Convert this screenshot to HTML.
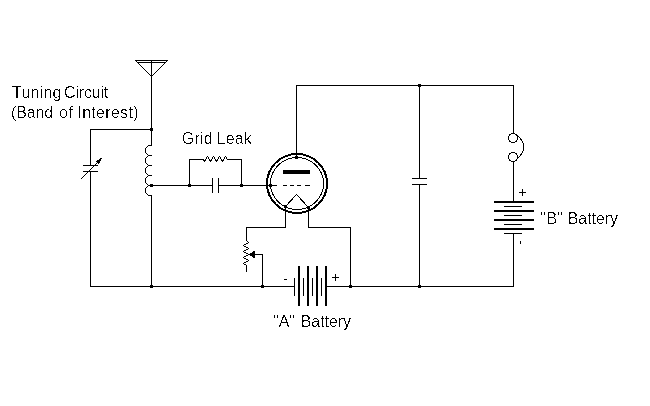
<!DOCTYPE html>
<html><head><meta charset="utf-8">
<style>
html,body{margin:0;padding:0;background:#fff;}
body{width:650px;height:406px;overflow:hidden;position:relative;font-family:"Liberation Sans",sans-serif;}
svg{position:absolute;left:0;top:0;}
.t{position:absolute;font-size:16px;line-height:19px;color:#000;white-space:nowrap;filter:url(#thr);}
</style></head><body>
<svg width="650" height="406" viewBox="0 0 650 406">
<defs><filter id="thr" x="0" y="0" width="100%" height="100%" color-interpolation-filters="sRGB"><feComponentTransfer><feFuncA type="discrete" tableValues="0 0 0 1 1"/></feComponentTransfer></filter></defs>
<g transform="translate(0.5,0.5)" fill="none" stroke="#000" stroke-width="1" stroke-linecap="square" shape-rendering="crispEdges">
<!-- antenna -->
<path d="M135,60 H167 M137,62 H165 M135,60 L151,76 L167,60 M151,60 V129"/>
<!-- tuning: top & left & bottom -->
<path d="M90,129 H151 M90,129 V165 M90,171 V286 H294 M326,286 H513 V233 M513,133 V85 H296 V157"/>
<!-- coil -->
<path d="M151,129 V145 H148 L145,148 V152 L148,155 H151 M148,155 L145,158 V162 L148,165 H151 M148,165 L145,168 V172 L148,175 H151 M148,175 L145,178 V182 L148,185 H151 M148,185 L145,188 V192 L148,195 H151 V286"/>
<!-- variable cap -->
<path d="M83,165 H97 M83,171 H97"/>
<path stroke-linecap="butt" d="M80,179 L100,159"/>
<!-- grid line -->
<path d="M151,185 H212 M218,185 H276 M212,178 V192 M218,178 V192"/>
<!-- grid leak -->
<path d="M189,185 V159 H203 M227,159 H241 V185"/>
<path stroke-linejoin="bevel" stroke-linecap="butt" d="M203,159 L204,161 L207,156 L210,161 L213,156 L216,161 L219,156 L222,161 L225,156 L227,159"/>
<!-- grid dashes -->
<path d="M283,185 H286 M290,185 H293 M297,185 H300 M305,185 H309"/>
<!-- filament -->
<path d="M285,206 V227 H246 V240 M246,265 V271 M308,207 V227 H350 V286"/>
<path stroke-linejoin="bevel" stroke-linecap="butt" d="M285,206 L296,194 L308,207 M246,240 L248,242 L243,245 L248,248 L243,251 L248,254 L243,257 L248,260 L243,263 L246,265"/>
<!-- rheostat arrow -->
<path d="M250,254 H262 V286"/>
<!-- right cap -->
<path d="M419,85 V178 M412,178 H426 M412,184 H426 M419,184 V286"/>
<!-- B battery -->
<path d="M513,161 V201 M504,206 H521 M504,215 H521 M504,224 H521 M504,233 H521 M519,192 H525 M522,189 V195 M520,241 V243"/>
<!-- A battery thin -->
<path d="M294,278 V295 M303,278 V295 M312,278 V295 M321,278 V295 M284,279 H286 M332,277 H338 M335,274 V280"/>
</g>
<!-- thick stuff -->
<g fill="#000" shape-rendering="crispEdges">
<rect x="298" y="266" width="2" height="40"/>
<rect x="307" y="266" width="2" height="40"/>
<rect x="316" y="266" width="2" height="40"/>
<rect x="325" y="266" width="2" height="40"/>
<rect x="494" y="201" width="40" height="2"/>
<rect x="494" y="210" width="40" height="2"/>
<rect x="494" y="219" width="40" height="2"/>
<rect x="494" y="228" width="40" height="2"/>
<rect x="283" y="170" width="27" height="4"/>
<!-- dots -->
<rect x="150" y="128" width="3" height="3"/>
<rect x="150" y="184" width="3" height="3"/>
<rect x="188" y="184" width="3" height="3"/>
<rect x="240" y="184" width="3" height="3"/>
<rect x="269" y="184" width="3" height="3"/>
<rect x="295" y="156" width="3" height="3"/>
<rect x="284" y="205" width="3" height="3"/>
<rect x="307" y="206" width="3" height="3"/>
<rect x="418" y="84" width="3" height="3"/>
<rect x="150" y="285" width="3" height="3"/>
<rect x="261" y="285" width="3" height="3"/>
<rect x="349" y="285" width="3" height="3"/>
<rect x="418" y="285" width="3" height="3"/>
<polygon points="248,254.5 255,250.5 255,258.5"/>
<polygon points="102,157.5 95.5,161.5 98.5,164.5"/>
</g>
<g fill="none" stroke="#000" shape-rendering="crispEdges">
<ellipse cx="297" cy="183.5" rx="30" ry="29.5" stroke-width="2"/>
<ellipse cx="297" cy="183.5" rx="26.5" ry="26" stroke-width="1"/>
<circle cx="513" cy="138" r="4.5" stroke-width="1"/>
<circle cx="513" cy="157" r="4.5" stroke-width="1"/>
<path d="M517.5,135.5 Q530,147 517.5,158.5" stroke-width="1"/>
</g>
</svg>
<div class="t" style="left:12.1px;top:83px;letter-spacing:0.2px">Tuning</div>
<div class="t" style="left:64.1px;top:83px;letter-spacing:-0.2px">Circuit</div>
<div class="t" style="left:11px;top:103px;letter-spacing:-0.15px">(Band</div>
<div class="t" style="left:59.1px;top:103px;letter-spacing:0.15px">of</div>
<div class="t" style="left:77.4px;top:103px;letter-spacing:0.3px">Interest)</div>
<div class="t" style="left:181.8px;top:129px;letter-spacing:0.2px">Grid</div>
<div class="t" style="left:216.6px;top:129px;letter-spacing:0.15px">Leak</div>
<div class="t" style="left:273px;top:312px;">"A"</div>
<div class="t" style="left:300.7px;top:312px;letter-spacing:-0.05px">Battery</div>
<div class="t" style="left:540.6px;top:209px;letter-spacing:0.15px">"B"</div>
<div class="t" style="left:567.7px;top:209px;letter-spacing:-0.05px">Battery</div>
</body></html>
